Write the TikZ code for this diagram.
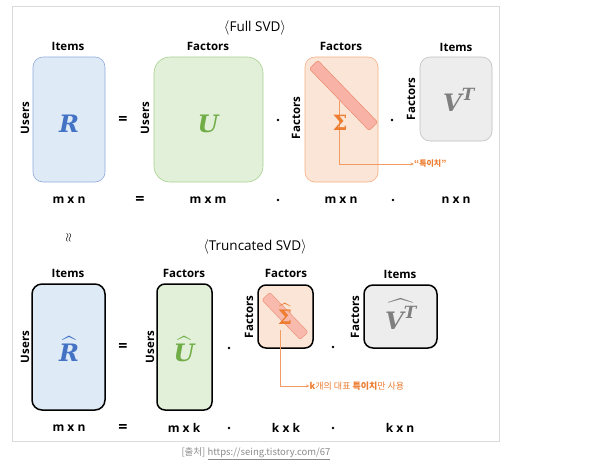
\documentclass[tikz,border=0pt]{standalone}
\usepackage{fontspec}
\setmainfont{Open Sans}
\newfontfamily\kr{Noto Sans CJK KR}
\newfontfamily\mserif{DejaVu Serif}
\usepackage{amsmath}
\usetikzlibrary{arrows.meta}
\definecolor{bluefill}{HTML}{DEEBF7}
\definecolor{blueline}{HTML}{8FAADC}
\definecolor{greenfill}{HTML}{E2F0D9}
\definecolor{greenline}{HTML}{A9D18E}
\definecolor{peachfill}{HTML}{FBE5D6}
\definecolor{peachline}{HTML}{F4B183}
\definecolor{grayfill}{HTML}{EDEDED}
\definecolor{grayline}{HTML}{BFBFBF}
\definecolor{barfill}{HTML}{F8B3A6}
\definecolor{barline}{HTML}{EC8A70}
\definecolor{rcol}{HTML}{4472C4}
\definecolor{ucol}{HTML}{70AD47}
\definecolor{scol}{HTML}{ED7D31}
\definecolor{vcol}{HTML}{7F7F7F}
\definecolor{arrcol}{HTML}{F29B62}
\definecolor{framecol}{HTML}{DADADA}
\definecolor{srccol}{HTML}{8C8C8C}
\newcommand{\mlet}[1]{\text{\mserif\bfseries\itshape #1}}
\newcommand{\mup}[1]{\text{\mserif\bfseries #1}}
\tikzset{
  lbl/.style={font=\fontsize{11.5}{13}\selectfont\bfseries, inner sep=0},
  vlbl/.style={lbl, rotate=90},
  dimlbl/.style={font=\fontsize{12}{13}\selectfont\bfseries, inner sep=0},
  eqsign/.style={font=\fontsize{16}{16}\selectfont\bfseries, inner sep=0},
  dotop/.style={circle, fill=black, inner sep=0, minimum size=2.6pt},
  title/.style={font=\fontsize{13.5}{15}\selectfont, inner sep=0},
  mat/.style={draw, rectangle, inner sep=0},
  thin/.style={line width=0.6pt},
  thick/.style={line width=1.5pt, draw=black},
  sym/.style={font=\fontsize{24}{24}\selectfont, inner sep=0},
  bar/.style={draw=barline, fill=barfill, rectangle, rounded corners=2pt, rotate=-46, inner sep=0, line width=0.5pt},
  callout/.style={draw=arrcol, line width=0.6pt, -{Stealth[length=3.5pt,width=3pt]}},
  note/.style={text=scol, inner sep=0, anchor=west},
}
\begin{document}
\begin{tikzpicture}[x=1pt,y=-1pt]
\useasboundingbox (0,0) rectangle (605,467);
\fill[white] (0,0) rectangle (605,467);
\draw[framecol, line width=0.8pt] (12.5,6) rectangle (499,441);

% ---------- Full SVD ----------
\node[title] (t1) at (255,28) {$\langle$Full SVD$\rangle$};

\node[mat, thin, draw=blueline, fill=bluefill, minimum width=72pt, minimum height=125pt, rounded corners=10pt] (R) at (69,119.5) {};
\node[mat, thin, draw=greenline, fill=greenfill, minimum width=109pt, minimum height=125pt, rounded corners=16pt] (U) at (208.5,119.5) {};
\node[mat, thin, draw=peachline, fill=peachfill, minimum width=73pt, minimum height=125pt, rounded corners=10pt] (S) at (341.5,119.5) {};
\node[mat, thin, draw=grayline, fill=grayfill, minimum width=72pt, minimum height=84pt, rounded corners=10pt] (V) at (456,99) {};

\node[lbl] (Ri) at (68,46) {Items};
\node[lbl] (Uf) at (208,46) {Factors};
\node[lbl] (Sf) at (341,46) {Factors};
\node[lbl] (Vi) at (456,47) {Items};

\node[vlbl] (Ru) at (25,118) {Users};
\node[vlbl] (Uu) at (145,118) {Users};
\node[vlbl] (Sv) at (296,118) {Factors};
\node[vlbl] (Vv) at (411,99) {Factors};

\node[bar, minimum width=86pt, minimum height=12pt] (B) at (343.5,95.5) {};
\coordinate (Bs) at (339,101);
\node[note, font=\kr\fontsize{8}{9}\selectfont\bfseries] (n1) at (414,164) {“특이치”};
\draw[callout] (Bs) |- (n1.west);

\node[sym, text=rcol] (Rs) at (69,124) {$\mlet{R}$};
\node[sym, text=ucol] (Us) at (208,124) {$\mlet{U}$};
\node[sym, text=scol, font=\fontsize{21}{21}\selectfont] (Ss) at (340,123) {$\mup{Σ}$};
\node[sym, text=vcol] (Vs) at (459,100) {$\mlet{V}^{\mlet{T}}$};

\node[eqsign] (e1) at (123,120) {=};
\node[dotop] (d1) at (278,120) {};
\node[dotop] (d2) at (392,120) {};

\node[dimlbl] (m1) at (69,200) {m x n};
\node[eqsign] (e2) at (140,200) {=};
\node[dimlbl] (m2) at (208,200) {m x m};
\node[dotop] (d3) at (278,200) {};
\node[dimlbl] (m3) at (341,200) {m x n};
\node[dotop] (d4) at (393,200) {};
\node[dimlbl] (m4) at (456,200) {n x n};

\node[inner sep=0, rotate=90, font=\fontsize{13}{13}\selectfont] (ap) at (69,238) {$\approx$};

% ---------- Truncated SVD ----------
\node[title] (t2) at (255,247) {$\langle$Truncated SVD$\rangle$};

\node[mat, thick, fill=bluefill, minimum width=73pt, minimum height=126pt, rounded corners=10pt] (R2) at (68.5,347) {};
\node[mat, thick, fill=greenfill, minimum width=55pt, minimum height=126pt, rounded corners=8pt] (U2) at (184.5,347) {};
\node[mat, thick, fill=peachfill, minimum width=55pt, minimum height=63pt, rounded corners=8pt] (S2) at (285.5,316.5) {};
\node[mat, thick, fill=grayfill, minimum width=73pt, minimum height=63pt, rounded corners=9pt] (V2) at (400.5,316.5) {};

\node[lbl] (R2i) at (68,273) {Items};
\node[lbl] (U2f) at (184,273) {Factors};
\node[lbl] (S2f) at (286,273) {Factors};
\node[lbl] (V2i) at (400,274) {Items};

\node[vlbl] (R2u) at (25,347) {Users};
\node[vlbl] (U2u) at (150,347) {Users};
\node[vlbl] (S2v) at (249,317) {Factors};
\node[vlbl] (V2v) at (355,317) {Factors};

\node[bar, opacity=0.85, minimum width=55pt, minimum height=11pt] (B2) at (285,316) {};
\coordinate (B2s) at (280,330);
\node[note, font=\kr\fontsize{9}{10}\selectfont] (n2) at (309.5,386) {\textbf{k}개의 대표 \textbf{특이치}만 사용};
\draw[callout] (B2s) |- (n2.west);

\node[sym, text=rcol] (R2s) at (69,349) {$\widehat{\mlet{R}}$};
\node[sym, text=ucol] (U2s) at (184,349) {$\widehat{\mlet{U}}$};
\node[sym, text=scol, font=\fontsize{20}{20}\selectfont] (S2s) at (285,314) {$\widehat{\mup{Σ}}$};
\node[sym, text=vcol] (V2s) at (401,314) {$\widehat{\mlet{V}^{\mlet{T}}}$};

\node[eqsign] (e3) at (123,347) {=};
\node[dotop] (d5) at (229,348) {};
\node[dotop] (d6) at (333,347) {};

\node[dimlbl] (k1) at (69,428) {m x n};
\node[eqsign] (e4) at (123,428) {=};
\node[dimlbl] (k2) at (184,428) {m x k};
\node[dotop] (d7) at (229,428) {};
\node[dimlbl] (k3) at (286,428) {k x k};
\node[dotop] (d8) at (333,428) {};
\node[dimlbl] (k4) at (400,428) {k x n};

\node[inner sep=0, text=srccol, font=\kr\fontsize{9.5}{11}\selectfont] (src) at (256,454) {[출처] \underline{https://seing.tistory.com/67}};
\end{tikzpicture}
\end{document}
